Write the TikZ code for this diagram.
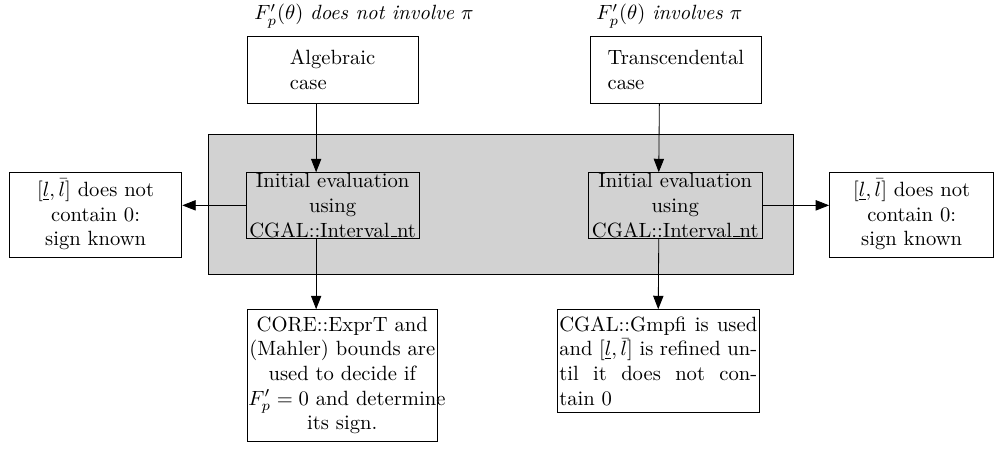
\documentclass[tikz,border=0pt]{standalone}
\usepackage{tikz}
\usetikzlibrary{arrows.meta}
\tikzset{arrow/.style = {->,>={Triangle[length=6.5pt,width=5pt]}}}
\tikzset{casebox/.style = {draw, minimum width=83pt, minimum height=32.5pt, align=left}}
\tikzset{evalbox/.style = {draw, fill=gray!35, text width=83.5pt, inner sep=0.3pt, align=center}}
\tikzset{signbox/.style = {draw, align=center}}
\newcommand{\lowrule}{\kern.06em\vbox{\hrule width.3em}}

\begin{document}
\begin{tikzpicture}

\useasboundingbox (0,0) rectangle (16.96,7.64);

\fill[gray!35, draw=black] (3.55,2.97) rectangle (13.52,5.35);

\node[anchor=base west] (labA) at (4.21,7.30) {$F'_p(\theta)$ \textit{does not involve} $\pi$};
\node[anchor=base west] (labB) at (10.04,7.30) {$F'_p(\theta)$ \textit{involves} $\pi$};

\node[casebox] (alg) at (5.67,6.45) {Algebraic\\case};
\node[casebox] (trans) at (11.52,6.45) {Transcendental\\case};

\node[evalbox] (initA) at (5.67,4.14) {Initial evaluation\\using\\CGAL::Interval\lowrule nt};
\node[evalbox] (initB) at (11.51,4.14) {Initial evaluation\\using\\CGAL::Interval\lowrule nt};

\node[signbox, text width=77pt] (signA) at (1.63,3.98) {$[\underline{l},\bar{l}]$ does not\\contain 0:\\sign known};
\node[signbox, text width=73pt] (signB) at (15.54,3.98) {$[\underline{l},\bar{l}]$ does not\\contain 0:\\sign known};

% bottom boxes: exact-sign step on each side
\node[draw, anchor=north west, text width=91pt, inner xsep=0.5pt, align=center] (core) at (4.21,2.37)
  {CORE::ExprT and\\(Mahler) bounds are\\used to decide if\\\mbox{$F'_p=0$ and determine}\\its sign.};
\node[draw, anchor=north, text width=96pt, inner xsep=1pt, align=justify] (gmpfi) at (11.22,2.37)
  {CGAL::Gmpfi is used\linebreak and $[\underline{l},\bar{l}]$ is refined un-\linebreak til it does not con-\linebreak tain 0};

\draw[arrow] ([xshift=-8pt]alg.south) -- ([xshift=-8pt]initA.north);
\draw[arrow] ([xshift=-8pt]trans.south) -- ([xshift=-8pt]initB.north);

\draw[arrow] (initA.west) -- (initA.west -| signA.east);
\draw[arrow] (initB.east) -- (initB.east -| signB.west);

\draw[arrow] ([xshift=-8pt]initA.south) -- ([xshift=-8pt]initA.south |- core.north);
\draw[arrow] ([xshift=-8pt]initB.south) -- (gmpfi.north);

\end{tikzpicture}
\end{document}
